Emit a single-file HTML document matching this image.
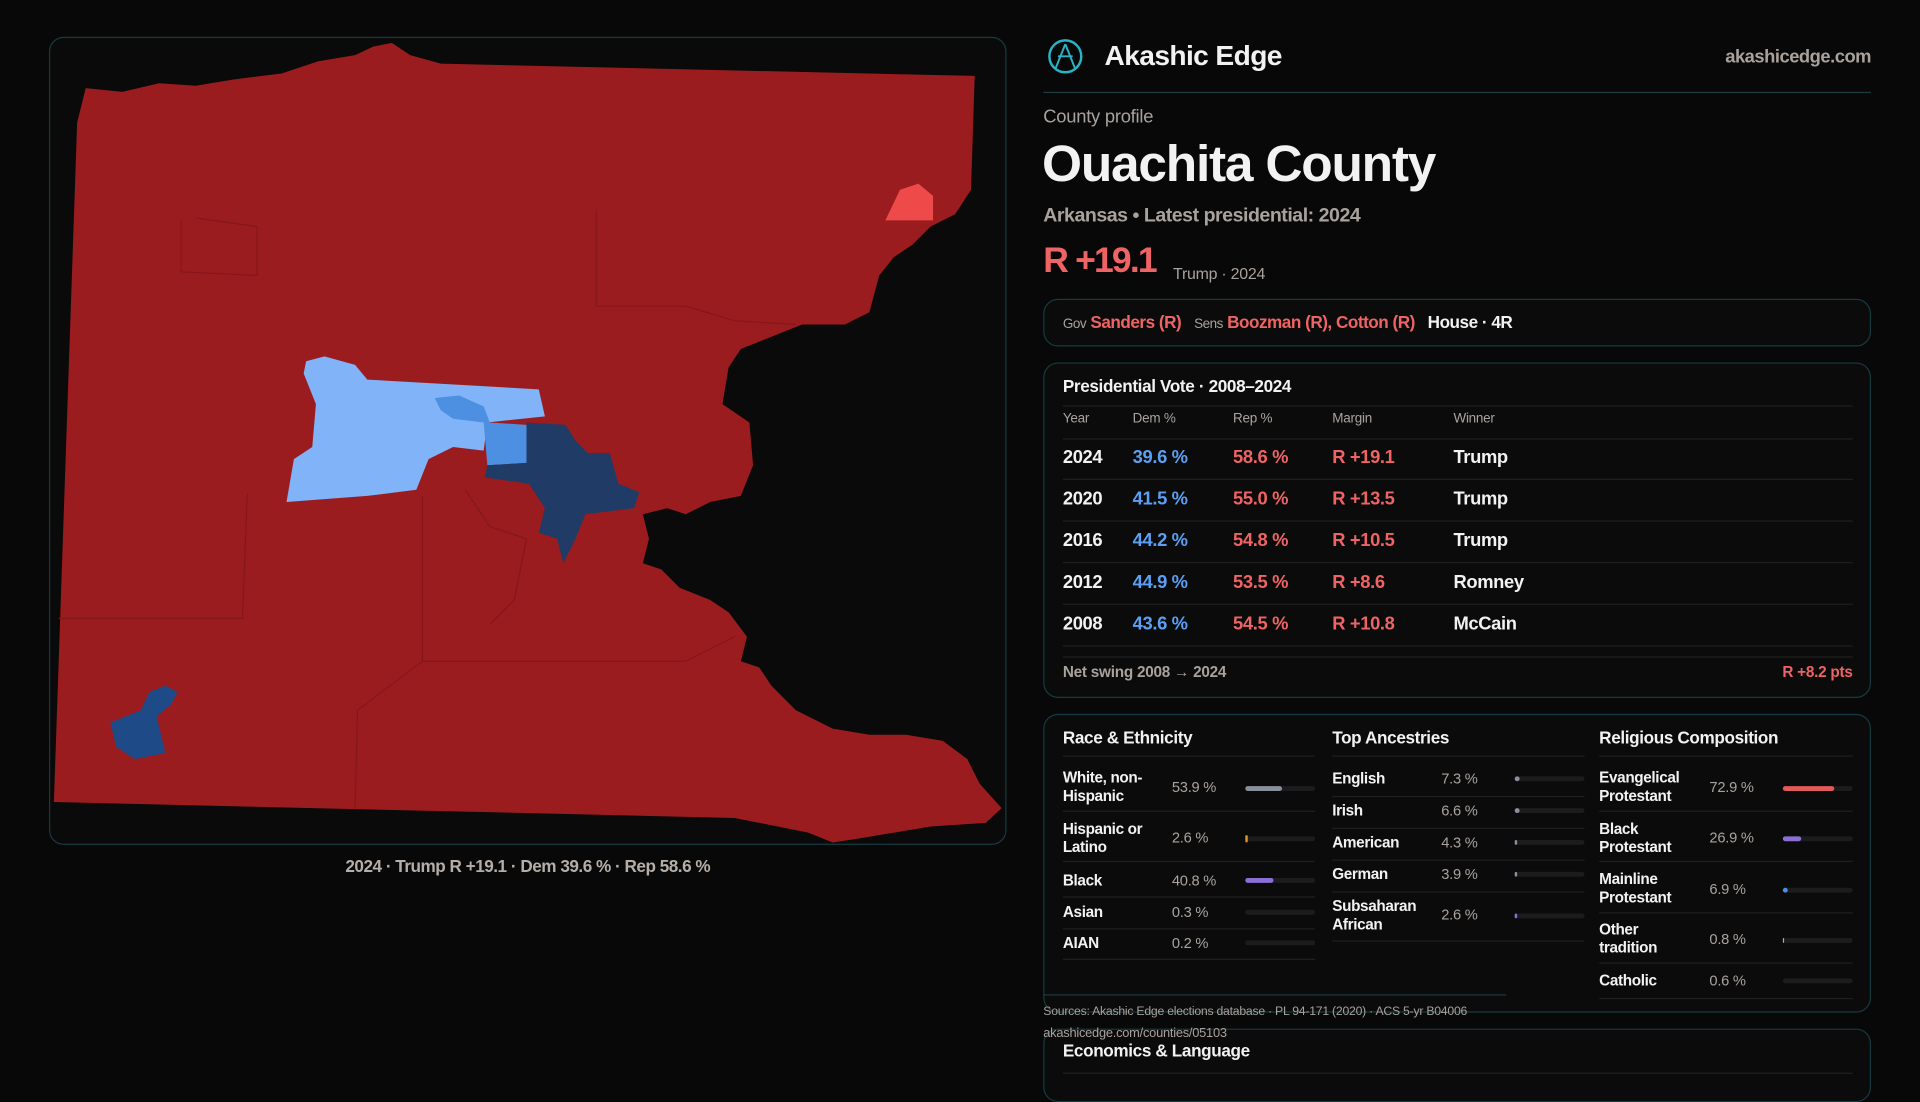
<!DOCTYPE html>
<html><head><meta charset="utf-8"><style>
*{margin:0;padding:0;box-sizing:border-box}
html,body{width:1920px;height:1080px;background:#080808;overflow:hidden;font-family:"Liberation Sans",sans-serif}
#w{position:absolute;left:0;top:0;width:1568px;height:882px;transform:scale(1.22449);transform-origin:0 0;background:#080808;color:#f2f2f2;letter-spacing:-0.2px}
.a{position:absolute;white-space:nowrap}
.box{position:absolute;border:1px solid #173a40;border-radius:12px;background:#0b0b0b}
.g{color:#a9a29c}.r{color:#ee6464}.b{color:#5aa0f5}
.sep{position:absolute;height:1px;background:#1f1f1f}
.t{font-size:15px;font-weight:bold;letter-spacing:-0.3px}
.s{font-size:12.5px;font-weight:bold;line-height:15px;letter-spacing:-0.3px}
.v{font-size:12px;color:#aaa39d}
.bar{position:absolute;height:4px;border-radius:2px;background:#1c1c1e}
.bar i{position:absolute;left:0;top:0;height:4px;border-radius:2px}
</style></head><body><div id="w">
<div class="box" style="left:40px;top:30px;width:782px;height:660px;background:#0a0a0a"></div>
<svg class="a" style="left:0;top:0" width="1568" height="882">
<polygon fill="#9b1c1f" points="63,100 70,72 100,75 130,68 160,70 190,65 230,60 260,50 290,45 305,38 320,35 335,45 360,52 796,62 793,155 780,175 760,185 745,200 730,210 718,225 710,255 690,265 655,265 630,275 605,285 595,300 590,330 612,345 615,380 605,405 580,410 560,420 545,415 525,420 530,440 525,460 540,465 555,480 580,490 595,500 610,520 605,540 620,545 630,560 650,580 680,595 710,600 740,600 770,605 790,620 800,640 818,660 805,672 760,675 700,685 680,688 660,680 600,668 44,655"/>
<g fill="none" stroke="#84171a" stroke-width="1">
<polyline points="148,180 148,222 210,225 210,185 160,178"/>
<polyline points="487,172 487,250 560,250 600,262 650,265"/>
<polyline points="202,403 198,505 48,505"/>
<polyline points="345,405 345,540 292,580 290,660"/>
<polyline points="345,540 560,540 600,520"/>
<polyline points="380,400 400,430 430,440 420,490 400,510"/>
</g>
<polygon fill="#ee4a4a" points="723,180 735,155 750,150 762,160 762,180"/>
<polygon fill="#80b3f7" points="250,295 265,291 290,298 300,310 440,318 445,340 398,345 395,368 370,365 350,375 340,400 300,405 234,410 240,375 255,365 258,330 248,305"/>
<polygon fill="#4d8fe0" points="355,325 375,323 395,332 400,345 430,347 430,378 398,380 395,345 370,342 360,335"/>
<polygon fill="#1f3b66" points="430,345 462,347 470,360 480,370 498,370 505,395 522,402 518,415 478,420 470,440 460,460 455,440 440,435 445,415 432,395 396,390 398,380 430,378"/>
<polygon fill="#1f4a88" points="90,590 115,580 122,565 135,560 145,565 140,575 128,585 135,615 110,620 95,610"/>
<circle cx="870" cy="46" r="13" fill="none" stroke="#2ab3c4" stroke-width="2"/>
<path d="M870 36 L862 56 M870 36 L878 56 M864 46 L876 46" stroke="#2ab3c4" stroke-width="1.6" fill="none"/>
</svg>
<div class="a g" style="left:0;width:862px;text-align:center;top:699px;font-size:14px;font-weight:bold;color:#b5aea8;letter-spacing:-0.4px">2024 · Trump R +19.1 · Dem 39.6 % · Rep 58.6 %</div>

<div class="a" style="left:902px;top:32px;font-size:23px;font-weight:bold;letter-spacing:-0.5px">Akashic Edge</div>
<div class="a g" style="right:40px;top:38px;font-size:15px;font-weight:bold;letter-spacing:-0.4px">akashicedge.com</div>
<div class="a" style="left:852px;top:75px;width:676px;height:1px;background:#1d3a40"></div>
<div class="a g" style="left:852px;top:87px;font-size:15px">County profile</div>
<div class="a" style="left:851px;top:110px;font-size:42px;font-weight:bold;letter-spacing:-1px">Ouachita County</div>
<div class="a g" style="left:852px;top:168px;font-size:16px;font-weight:bold;letter-spacing:-0.4px">Arkansas • Latest presidential: 2024</div>
<div class="a r" style="left:852px;top:197px;font-size:29px;font-weight:bold;letter-spacing:-1.5px">R +19.1</div>
<div class="a g" style="left:958px;top:216px;font-size:13px">Trump · 2024</div>

<div class="box" style="left:852px;top:244px;width:676px;height:39px"></div>
<div class="a" style="left:868px;top:255px;font-size:14px;font-weight:bold;letter-spacing:-0.4px"><span class="g" style="font-size:11px;font-weight:normal">Gov</span> <span class="r">Sanders (R)</span> &nbsp; <span class="g" style="font-size:11px;font-weight:normal">Sens</span> <span class="r">Boozman (R), Cotton (R)</span> &nbsp; House · 4R</div>

<div class="box" style="left:852px;top:296px;width:676px;height:274px"></div>
<div class="a t" style="left:868px;top:307px;font-size:14px">Presidential Vote · 2008–2024</div>
<div class="sep" style="left:868px;top:331px;width:645px"></div>
<div class="a v" style="left:868px;top:336px;font-size:11px">Year</div>
<div class="a v" style="left:925px;top:336px;font-size:11px">Dem %</div>
<div class="a v" style="left:1007px;top:336px;font-size:11px">Rep %</div>
<div class="a v" style="left:1088px;top:336px;font-size:11px">Margin</div>
<div class="a v" style="left:1187px;top:336px;font-size:11px">Winner</div>
<div class="sep" style="left:868px;top:358px;width:645px"></div>
<div class="a t" style="left:868px;top:357px;line-height:34px">
<div>2024</div><div>2020</div><div>2016</div><div>2012</div><div>2008</div></div>
<div class="a t b" style="left:925px;top:357px;line-height:34px"><div>39.6 %</div><div>41.5 %</div><div>44.2 %</div><div>44.9 %</div><div>43.6 %</div></div>
<div class="a t r" style="left:1007px;top:357px;line-height:34px"><div>58.6 %</div><div>55.0 %</div><div>54.8 %</div><div>53.5 %</div><div>54.5 %</div></div>
<div class="a t r" style="left:1088px;top:357px;line-height:34px"><div>R +19.1</div><div>R +13.5</div><div>R +10.5</div><div>R +8.6</div><div>R +10.8</div></div>
<div class="a t" style="left:1187px;top:357px;line-height:34px"><div>Trump</div><div>Trump</div><div>Trump</div><div>Romney</div><div>McCain</div></div>
<div class="sep" style="left:868px;top:391px;width:645px"></div>
<div class="sep" style="left:868px;top:425px;width:645px"></div>
<div class="sep" style="left:868px;top:459px;width:645px"></div>
<div class="sep" style="left:868px;top:493px;width:645px"></div>
<div class="sep" style="left:868px;top:527px;width:645px"></div>
<div class="sep" style="left:868px;top:536px;width:645px"></div>
<div class="a g" style="left:868px;top:542px;font-size:12.5px;font-weight:bold">Net swing 2008 → 2024</div>
<div class="a r" style="right:55px;top:542px;font-size:12.5px;font-weight:bold">R +8.2 pts</div>

<div class="box" style="left:852px;top:583px;width:676px;height:244px"></div>
<div class="a t" style="left:868px;top:594px;font-size:14px">Race &amp; Ethnicity</div>
<div class="a t" style="left:1088px;top:594px;font-size:14px">Top Ancestries</div>
<div class="a t" style="left:1306px;top:594px;font-size:14px">Religious Composition</div>
<div class="sep" style="left:868px;top:617px;width:206px"></div>
<div class="sep" style="left:1088px;top:617px;width:206px"></div>
<div class="sep" style="left:1306px;top:617px;width:207px"></div>

<div class="a s" style="left:868px;top:628px">White, non-<br>Hispanic</div><div class="a v" style="left:957px;top:636px">53.9 %</div><div class="bar" style="left:1017px;top:642px;width:57px"><i style="width:30px;background:#8a8f9c"></i></div>
<div class="sep" style="left:868px;top:662px;width:206px"></div>
<div class="a s" style="left:868px;top:670px">Hispanic or<br>Latino</div><div class="a v" style="left:957px;top:677px">2.6 %</div><div class="bar" style="left:1017px;top:683px;width:57px"><i style="width:2px;height:6px;top:-1px;background:#e0952a"></i></div>
<div class="sep" style="left:868px;top:703px;width:206px"></div>
<div class="a s" style="left:868px;top:712px">Black</div><div class="a v" style="left:957px;top:712px">40.8 %</div><div class="bar" style="left:1017px;top:717px;width:57px"><i style="width:23px;background:#8a70d6"></i></div>
<div class="sep" style="left:868px;top:732px;width:206px"></div>
<div class="a s" style="left:868px;top:738px">Asian</div><div class="a v" style="left:957px;top:738px">0.3 %</div><div class="bar" style="left:1017px;top:743px;width:57px"></div>
<div class="sep" style="left:868px;top:758px;width:206px"></div>
<div class="a s" style="left:868px;top:763px">AIAN</div><div class="a v" style="left:957px;top:763px">0.2 %</div><div class="bar" style="left:1017px;top:768px;width:57px"></div>
<div class="sep" style="left:868px;top:783px;width:206px"></div>

<div class="a s" style="left:1088px;top:629px">English</div><div class="a v" style="left:1177px;top:629px">7.3 %</div><div class="bar" style="left:1237px;top:634px;width:57px"><i style="width:4px;background:#8a8f9c"></i></div>
<div class="sep" style="left:1088px;top:650px;width:206px"></div>
<div class="a s" style="left:1088px;top:655px">Irish</div><div class="a v" style="left:1177px;top:655px">6.6 %</div><div class="bar" style="left:1237px;top:660px;width:57px"><i style="width:4px;background:#8a8f9c"></i></div>
<div class="sep" style="left:1088px;top:676px;width:206px"></div>
<div class="a s" style="left:1088px;top:681px">American</div><div class="a v" style="left:1177px;top:681px">4.3 %</div><div class="bar" style="left:1237px;top:686px;width:57px"><i style="width:2px;background:#8a8f9c"></i></div>
<div class="sep" style="left:1088px;top:702px;width:206px"></div>
<div class="a s" style="left:1088px;top:707px">German</div><div class="a v" style="left:1177px;top:707px">3.9 %</div><div class="bar" style="left:1237px;top:712px;width:57px"><i style="width:2px;background:#8a8f9c"></i></div>
<div class="sep" style="left:1088px;top:728px;width:206px"></div>
<div class="a s" style="left:1088px;top:733px">Subsaharan<br>African</div><div class="a v" style="left:1177px;top:740px">2.6 %</div><div class="bar" style="left:1237px;top:746px;width:57px"><i style="width:2px;background:#8a70d6"></i></div>
<div class="sep" style="left:1088px;top:768px;width:206px"></div>

<div class="a s" style="left:1306px;top:628px">Evangelical<br>Protestant</div><div class="a v" style="left:1396px;top:636px">72.9 %</div><div class="bar" style="left:1456px;top:642px;width:57px"><i style="width:42px;background:#e05a5a"></i></div>
<div class="sep" style="left:1306px;top:662px;width:207px"></div>
<div class="a s" style="left:1306px;top:670px">Black<br>Protestant</div><div class="a v" style="left:1396px;top:677px">26.9 %</div><div class="bar" style="left:1456px;top:683px;width:57px"><i style="width:15px;background:#8a70d6"></i></div>
<div class="sep" style="left:1306px;top:703px;width:207px"></div>
<div class="a s" style="left:1306px;top:711px">Mainline<br>Protestant</div><div class="a v" style="left:1396px;top:719px">6.9 %</div><div class="bar" style="left:1456px;top:725px;width:57px"><i style="width:4px;background:#4d8fe0"></i></div>
<div class="sep" style="left:1306px;top:745px;width:207px"></div>
<div class="a s" style="left:1306px;top:752px">Other<br>tradition</div><div class="a v" style="left:1396px;top:760px">0.8 %</div><div class="bar" style="left:1456px;top:766px;width:57px"><i style="width:1px;background:#aaa"></i></div>
<div class="sep" style="left:1306px;top:786px;width:207px"></div>
<div class="a s" style="left:1306px;top:794px">Catholic</div><div class="a v" style="left:1396px;top:794px">0.6 %</div><div class="bar" style="left:1456px;top:799px;width:57px"></div>
<div class="sep" style="left:1306px;top:815px;width:207px"></div>

<div class="a" style="left:852px;top:812px;width:378px;height:1px;background:#1d3a40"></div>
<div class="box" style="left:852px;top:840px;width:676px;height:60px"></div>
<div class="a g" style="left:852px;top:821px;font-size:10px">Sources: Akashic Edge elections database · PL 94-171 (2020) · ACS 5-yr B04006</div>
<div class="a g" style="left:852px;top:838px;font-size:10.5px">akashicedge.com/counties/05103</div>
<div class="a t" style="left:868px;top:850px;font-size:14px">Economics &amp; Language</div>
<div class="sep" style="left:868px;top:876px;width:645px"></div>
</div></body></html>
